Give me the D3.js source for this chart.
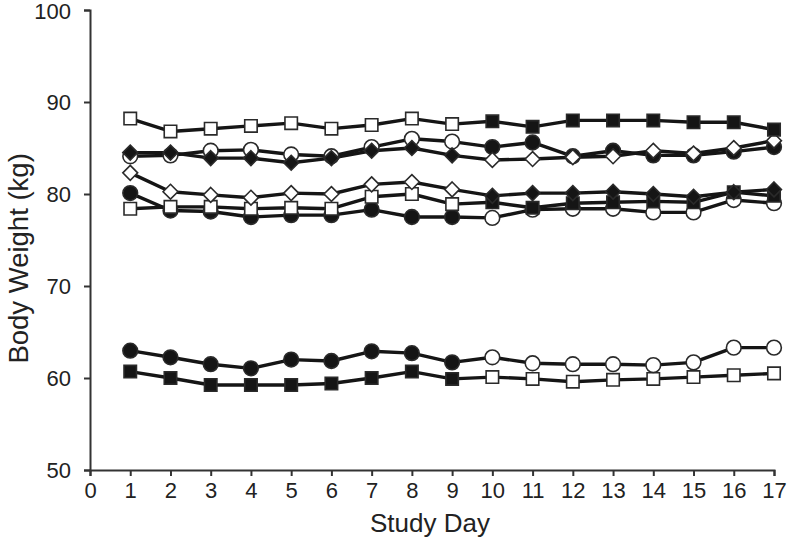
<!DOCTYPE html>
<html>
<head>
<meta charset="utf-8">
<script src="https://cdn.jsdelivr.net/npm/d3@7"></script>
<style>
  html, body { margin: 0; padding: 0; background: #fff; }
  svg { display: block; }
  text { font-family: "Liberation Sans", Arial, sans-serif; fill: #222; }
</style>
</head>
<body>
<svg id="chart" width="788" height="541"></svg>
<script>
// ---- data ----
const days = [1, 2, 3, 4, 5, 6, 7, 8, 9, 10, 11, 12, 13, 14, 15, 16, 17];
const xTicks = [0, 1, 2, 3, 4, 5, 6, 7, 8, 9, 10, 11, 12, 13, 14, 15, 16, 17];
const yTicks = [50, 60, 70, 80, 90, 100];
const switchDay = 10; // marker fill flips from this study day on

const sqTop  = [88.2, 86.8, 87.1, 87.4, 87.7, 87.1, 87.5, 88.2, 87.6, 87.9, 87.3, 88.0, 88.0, 88.0, 87.8, 87.8, 87.0];
const circ84 = [84.1, 84.2, 84.7, 84.8, 84.3, 84.1, 85.1, 86.0, 85.7, 85.1, 85.6, 84.1, 84.7, 84.2, 84.2, 84.6, 85.1];
const dia84  = [84.5, 84.5, 83.9, 83.9, 83.4, 83.9, 84.7, 85.0, 84.2, 83.7, 83.8, 84.0, 84.1, 84.7, 84.4, 85.0, 85.8];
const dia80  = [82.3, 80.25, 79.9, 79.6, 80.1, 80.0, 81.05, 81.3, 80.5, 79.8, 80.1, 80.1, 80.25, 80.0, 79.7, 80.2, 80.5];
const sq79   = [78.4, 78.6, 78.6, 78.4, 78.5, 78.4, 79.7, 80.0, 78.9, 79.1, 78.5, 79.0, 79.1, 79.2, 79.1, 80.2, 79.8];
const circ78 = [80.1, 78.2, 78.1, 77.5, 77.7, 77.7, 78.3, 77.5, 77.5, 77.4, 78.3, 78.4, 78.4, 78.0, 78.0, 79.35, 79.0];
const circ62 = [62.97, 62.25, 61.5, 61.05, 62.0, 61.85, 62.9, 62.7, 61.7, 62.25, 61.6, 61.5, 61.5, 61.4, 61.7, 63.3, 63.3];
const sq60   = [60.7, 60.0, 59.24, 59.24, 59.24, 59.4, 60.0, 60.7, 59.9, 60.1, 59.9, 59.6, 59.8, 59.9, 60.1, 60.3, 60.5];

// shape, and whether markers are filled before the switch day
const series = [
  { values: sq60,   shape: "square",  filledFirst: true  },
  { values: circ62, shape: "circle",  filledFirst: true  },
  { values: circ78, shape: "circle",  filledFirst: true  },
  { values: sq79,   shape: "square",  filledFirst: false },
  { values: dia80,  shape: "diamond", filledFirst: false },
  { values: circ84, shape: "circle",  filledFirst: false },
  { values: dia84,  shape: "diamond", filledFirst: true  },
  { values: sqTop,  shape: "square",  filledFirst: false }
];

// ---- layout ----
const svg = d3.select("#chart");
const x = d3.scaleLinear().domain([0, 17]).range([90, 774]);
const y = d3.scaleLinear().domain([50, 100]).range([470, 10]);

const axisColor = "#333";
const ink = "#151515";

// y axis
const yAxis = svg.append("g")
  .attr("transform", `translate(${x(0)},0)`)
  .call(d3.axisLeft(y).tickValues(yTicks).tickSize(6).tickPadding(13));
yAxis.select(".domain").attr("stroke", axisColor).attr("stroke-width", 2);
yAxis.selectAll(".tick line").attr("stroke", axisColor).attr("stroke-width", 2);
yAxis.selectAll(".tick text").attr("font-size", 22).attr("fill", "#222")
  .attr("dy", d => d === 100 ? "0.38em" : "0.32em");

// x axis
const xAxis = svg.append("g")
  .attr("transform", `translate(0,${y(50)})`)
  .call(d3.axisBottom(x).tickValues(xTicks).tickSize(6).tickPadding(6));
xAxis.select(".domain").attr("stroke", axisColor).attr("stroke-width", 2);
xAxis.selectAll(".tick line").attr("stroke", axisColor).attr("stroke-width", 2);
xAxis.selectAll(".tick text").attr("font-size", 22).attr("fill", "#222");

// titles
svg.append("text")
  .attr("x", (x(0) + x(17)) / 2 - 2)
  .attr("y", 532)
  .attr("text-anchor", "middle")
  .attr("font-size", 26)
  .text("Study Day");

svg.append("text")
  .attr("transform", `translate(28,${y(73)}) rotate(-90)`)
  .attr("text-anchor", "middle")
  .attr("font-size", 27.5)
  .text("Body Weight (kg)");

// lines
const line = d3.line().x((d, i) => x(days[i])).y(d => y(d));
svg.append("g").selectAll("path")
  .data(series)
  .join("path")
  .attr("d", s => line(s.values))
  .attr("fill", "none")
  .attr("stroke", ink)
  .attr("stroke-width", 3.4)
  .attr("stroke-linejoin", "round");

// markers
const rhombus = {
  draw(ctx, size) {
    const r = Math.sqrt(size / 2);
    ctx.moveTo(0, -r); ctx.lineTo(r, 0); ctx.lineTo(0, r); ctx.lineTo(-r, 0); ctx.closePath();
  }
};
const sym = {
  square: d3.symbol().type(d3.symbolSquare).size(155),
  circle: d3.symbol().type(d3.symbolCircle).size(170),
  diamond: d3.symbol().type(rhombus).size(110)
};

series.forEach(s => {
  svg.append("g").selectAll("path")
    .data(s.values.map((v, i) => ({ day: days[i], v })))
    .join("path")
    .attr("transform", d => `translate(${x(d.day)},${y(d.v)})`)
    .attr("d", sym[s.shape]())
    .attr("fill", d => ((d.day < switchDay) === s.filledFirst) ? ink : "#fff")
    .attr("stroke", "#2a2a2a")
    .attr("stroke-width", 1.6);
});
</script>
</body>
</html>
